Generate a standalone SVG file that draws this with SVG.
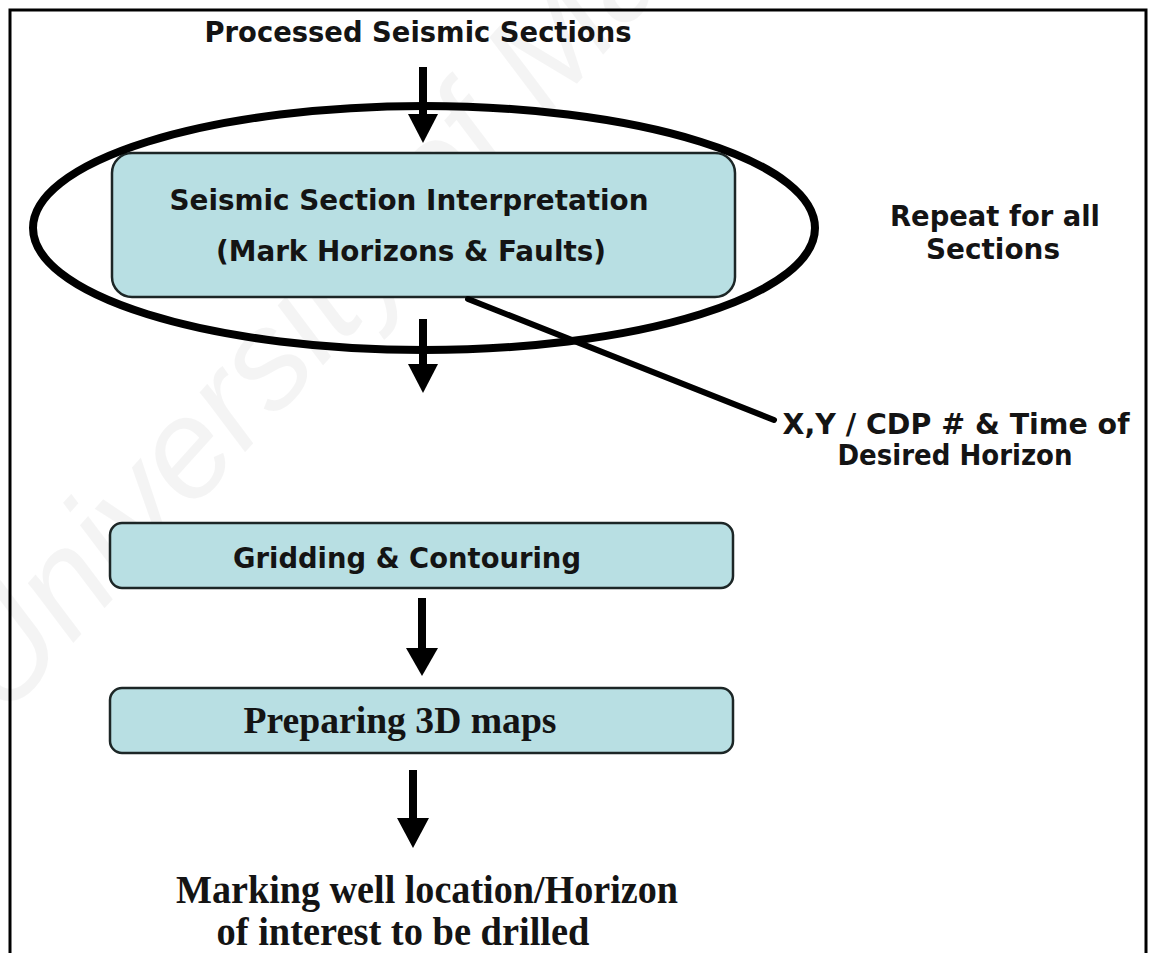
<svg xmlns="http://www.w3.org/2000/svg" width="1150" height="953" viewBox="0 0 1150 953">
  <style>
    .sans { font-family: "DejaVu Sans", Verdana, sans-serif; font-weight: bold; font-size: 29px; fill: #141414; }
    .serif { font-family: "Liberation Serif", "Times New Roman", serif; font-weight: bold; fill: #141414; }
    .box { fill: #b8dfe3; stroke: #1c2626; stroke-width: 2.5; }
    .shaft { stroke: #000; stroke-width: 8; fill: none; }
    .head { fill: #000; }
    .wm { font-family: "Liberation Sans", Arial, sans-serif; font-style: italic; font-size: 140px; fill: #000; fill-opacity: 0.045; }
  </style>
  <rect x="0" y="0" width="1150" height="953" fill="#ffffff"/>

  <g id="watermark">
    <text class="wm" transform="translate(4,720) rotate(-48)">University of Ma</text>
  </g>

  <rect id="frame" x="10" y="10" width="1136" height="980" fill="none" stroke="#000" stroke-width="3"/>

  <g id="title">
    <text class="sans" x="418" y="42" text-anchor="middle" textLength="427" lengthAdjust="spacingAndGlyphs">Processed Seismic Sections</text>
  </g>

  <g id="interpretation">
    <rect class="box" x="112" y="153" width="623" height="144" rx="20" ry="20"/>
    <text class="sans" x="409" y="210" text-anchor="middle" textLength="479" lengthAdjust="spacingAndGlyphs">Seismic Section Interpretation</text>
    <text class="sans" x="411" y="261" text-anchor="middle" textLength="390" lengthAdjust="spacingAndGlyphs">(Mark Horizons &amp; Faults)</text>
  </g>

  <g id="repeat-loop">
    <ellipse cx="424" cy="228" rx="391" ry="122" fill="none" stroke="#000" stroke-width="8"/>
  </g>

  <g id="repeat-label">
    <text class="sans" x="995" y="226" text-anchor="middle" textLength="210" lengthAdjust="spacingAndGlyphs">Repeat for all</text>
    <text class="sans" x="993" y="259" text-anchor="middle" textLength="134" lengthAdjust="spacingAndGlyphs">Sections</text>
  </g>

  <g id="output-label">
    <text class="sans" x="956" y="434" text-anchor="middle" textLength="347" lengthAdjust="spacingAndGlyphs">X,Y / CDP # &amp; Time of</text>
    <text class="sans" x="955" y="465" text-anchor="middle" textLength="235" lengthAdjust="spacingAndGlyphs">Desired Horizon</text>
  </g>

  <g id="gridding">
    <rect class="box" x="110" y="523" width="623" height="65" rx="12" ry="12"/>
    <text class="sans" x="407" y="568" text-anchor="middle" textLength="348" lengthAdjust="spacingAndGlyphs">Gridding &amp; Contouring</text>
  </g>

  <g id="maps">
    <rect class="box" x="110" y="688" width="623" height="65" rx="12" ry="12"/>
    <text class="serif" x="400" y="733" font-size="37" text-anchor="middle" textLength="313" lengthAdjust="spacingAndGlyphs">Preparing 3D maps</text>
  </g>

  <g id="well">
    <text class="serif" x="427" y="903" font-size="41" text-anchor="middle" textLength="502" lengthAdjust="spacingAndGlyphs">Marking well location/Horizon</text>
    <text class="serif" x="403" y="945" font-size="41" text-anchor="middle" textLength="373" lengthAdjust="spacingAndGlyphs">of interest to be drilled</text>
  </g>

  <g id="connectors">
    <line class="shaft" x1="423" y1="67" x2="423" y2="116"/>
    <polygon class="head" points="408,114 438,114 423,143"/>
    <line class="shaft" x1="423" y1="319" x2="423" y2="366"/>
    <polygon class="head" points="408,364 438,364 423,393"/>
    <line class="shaft" x1="422" y1="598" x2="422" y2="650"/>
    <polygon class="head" points="406,648 438,648 422,676"/>
    <line class="shaft" x1="413" y1="770" x2="413" y2="820"/>
    <polygon class="head" points="397,818 429,818 413,848"/>
    <line x1="468" y1="299" x2="774" y2="420" stroke="#000" stroke-width="6" stroke-linecap="round"/>
  </g>
</svg>
